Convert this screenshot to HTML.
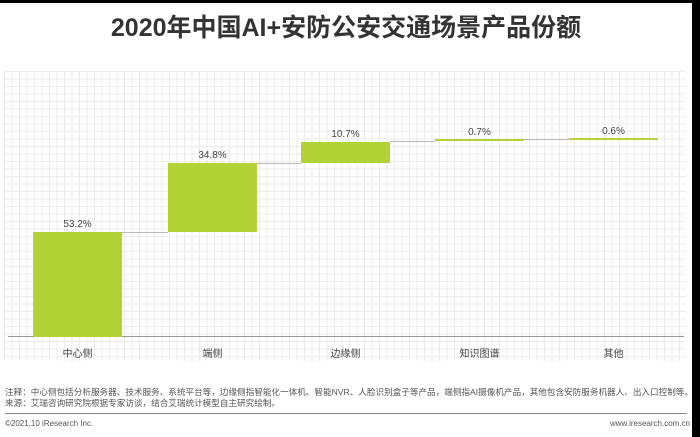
<!DOCTYPE html>
<html><head><meta charset="utf-8"><style>
body{margin:0;width:700px;height:437px;overflow:hidden;background:#fff;font-family:"Liberation Sans","Noto Sans CJK SC",sans-serif;position:relative}
.a{position:absolute}
.grid{left:4px;top:71px;width:682px;height:290px;background-image:linear-gradient(#ececec 1px,transparent 1px),linear-gradient(90deg,#ececec 1px,transparent 1px);background-size:7.5px 7.5px}
.bar{position:absolute;background:#b2d235}
.lab{position:absolute;font-size:10px;color:#444;text-align:center;width:89px}
.cat{position:absolute;font-size:10px;color:#444;text-align:center;width:89px;top:345px}
.con{position:absolute;height:1px;background:#bbb}
</style></head><body>
<div class="a" style="left:0;top:0;width:700px;height:3px;background:#000"></div>
<div class="a" style="right:0;top:0;width:8px;height:437px;background:#000"></div>
<div class="a" style="left:0;top:8px;width:692px;text-align:center;font-size:25px;font-weight:bold;color:#333">2020年中国AI+安防公安交通场景产品份额</div>
<div class="a grid"></div>
<div class="a" style="left:8px;top:336px;width:676px;height:1px;background:#999"></div>
<div class="bar" style="left:33px;top:232px;width:89px;height:105px"></div>
<div class="bar" style="left:168px;top:163px;width:89px;height:69px"></div>
<div class="bar" style="left:301px;top:142px;width:89px;height:21px"></div>
<div class="bar" style="left:435px;top:139px;width:89px;height:2px"></div>
<div class="bar" style="left:569px;top:138px;width:89px;height:2px"></div>
<div class="con" style="left:122px;top:232px;width:46px"></div>
<div class="con" style="left:257px;top:163px;width:44px"></div>
<div class="con" style="left:390px;top:141px;width:45px"></div>
<div class="con" style="left:524px;top:139px;width:45px"></div>
<div class="lab" style="left:33px;top:219px">53.2%</div>
<div class="lab" style="left:168px;top:150px">34.8%</div>
<div class="lab" style="left:301px;top:129px">10.7%</div>
<div class="lab" style="left:435px;top:127px">0.7%</div>
<div class="lab" style="left:569px;top:126px">0.6%</div>
<div class="cat" style="left:33px">中心侧</div>
<div class="cat" style="left:168px">端侧</div>
<div class="cat" style="left:301px">边缘侧</div>
<div class="cat" style="left:435px">知识图谱</div>
<div class="cat" style="left:569px">其他</div>
<div class="a" style="left:5px;top:387px;font-size:8.6px;color:#555;white-space:nowrap;line-height:11px">注释：中心侧包括分析服务器、技术服务、系统平台等，边缘侧指智能化一体机、智能NVR、人脸识别盒子等产品，端侧指AI摄像机产品，其他包含安防服务机器人、出入口控制等。<br>来源：艾瑞咨询研究院根据专家访谈，结合艾瑞统计模型自主研究绘制。</div>
<div class="a" style="left:5px;top:413px;width:682px;height:1px;background:#888"></div>
<div class="a" style="left:5px;top:419px;font-size:8px;color:#555">©2021.10 iResearch Inc.</div>
<div class="a" style="right:10px;top:419px;font-size:8px;color:#555">www.iresearch.com.cn</div>
</body></html>
